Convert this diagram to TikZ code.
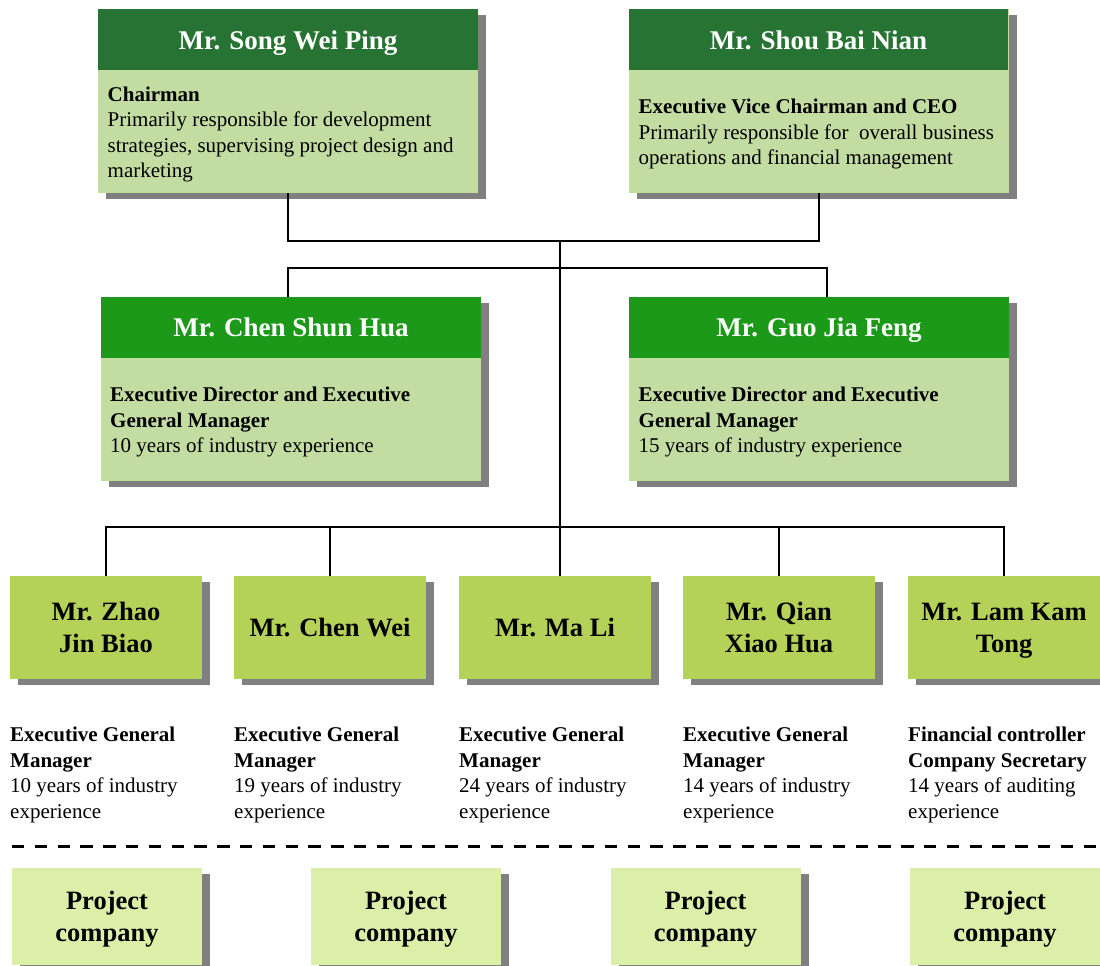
\documentclass[tikz,border=0pt]{standalone}
\usepackage{fontspec}
\setmainfont{Liberation Serif}
\usetikzlibrary{shadows,calc}
\definecolor{headdark}{HTML}{267334}
\definecolor{headmid}{HTML}{1D991A}
\definecolor{bodylight}{HTML}{C3DCA2}
\definecolor{namegreen}{HTML}{B5D258}
\definecolor{projgreen}{HTML}{DCEFA8}
\definecolor{shadowgray}{HTML}{808080}
\begin{document}
\begin{tikzpicture}[x=1pt,y=-1pt,
  box/.style={draw=none, inner sep=0pt, outer sep=0pt, anchor=north west,
    drop shadow={shadow xshift=8pt,shadow yshift=-6pt,fill=shadowgray,opacity=1}},
  hdr/.style={draw=none, inner sep=0pt, outer sep=0pt, anchor=north west,
    minimum width=380pt, minimum height=61pt},
  bigbox/.style={box, fill=bodylight, minimum width=380pt, minimum height=184pt},
  namebox/.style={box, fill=namegreen, minimum width=192pt, minimum height=103pt},
  projbox/.style={box, fill=projgreen, minimum width=190pt, minimum height=97pt},
  htext/.style={anchor=base, inner sep=0pt, text=white, font=\fontsize{27}{32}\selectfont\bfseries},
  btext/.style={anchor=base west, inner sep=0pt, font=\fontsize{21}{25.6}\selectfont},
  ntext/.style={anchor=base, inner sep=0pt, font=\fontsize{26.5}{31.6}\selectfont\bfseries},
  conn/.style={draw=black, line width=1.6pt},
]
\useasboundingbox (0,0) rectangle (1100,966);

% top boxes
\node[bigbox] (song) at (98,9) {};
\node[hdr, fill=headdark] (songHead) at (98,9) {};
\node[htext] (songName) at (288,50) {Mr. Song Wei Ping};
\node[btext] (songText) at (107.5,101) {\parbox[t]{370pt}{\textbf{Chairman}\\Primarily responsible for development\\strategies, supervising project design and\\marketing}};

\node[bigbox] (shou) at (629,9) {};
\node[hdr, fill=headdark, minimum width=379pt] (shouHead) at (629,9) {};
\node[htext] (shouName) at (818.5,50) {Mr. Shou Bai Nian};
\node[btext] (shouText) at (638.5,113.5) {\parbox[t]{370pt}{\textbf{Executive Vice Chairman and CEO}\\Primarily responsible for\ \ overall business\\operations and financial management}};

% middle boxes
\node[bigbox] (chen) at (101,297) {};
\node[hdr, fill=headmid] (chenHead) at (101,297) {};
\node[htext] (chenName) at (291,336.7) {Mr. Chen Shun Hua};
\node[btext] (chenText) at (110,401.5) {\parbox[t]{370pt}{\textbf{Executive Director and Executive}\\\textbf{General Manager}\\10 years of industry experience}};

\node[bigbox] (guo) at (629,297) {};
\node[hdr, fill=headmid] (guoHead) at (629,297) {};
\node[htext] (guoName) at (819,336.7) {Mr. Guo Jia Feng};
\node[btext] (guoText) at (638.5,401.5) {\parbox[t]{370pt}{\textbf{Executive Director and Executive}\\\textbf{General Manager}\\15 years of industry experience}};

% bottom name boxes
\node[namebox] (zhao) at (10,576) {};
\node[ntext] (zhaoName) at (106,620.7) {\parbox[t]{190pt}{\centering Mr. Zhao\\Jin Biao}};
\node[namebox] (chenwei) at (234,576) {};
\node[ntext] (chenweiName) at (330,636.7) {Mr. Chen Wei};
\node[namebox] (mali) at (459,576) {};
\node[ntext] (maliName) at (555,636.7) {Mr. Ma Li};
\node[namebox] (qian) at (683,576) {};
\node[ntext] (qianName) at (779,620.7) {\parbox[t]{190pt}{\centering Mr. Qian\\Xiao Hua}};
\node[namebox] (lam) at (908,576) {};
\node[ntext] (lamName) at (1004,620.7) {\parbox[t]{190pt}{\centering Mr. Lam Kam\\Tong}};

% descriptions
\node[btext] (zhaoText) at (10,741.7) {\parbox[t]{210pt}{\textbf{Executive General}\\\textbf{Manager}\\10 years of industry\\experience}};
\node[btext] (chenweiText) at (234,741.7) {\parbox[t]{210pt}{\textbf{Executive General}\\\textbf{Manager}\\19 years of industry\\experience}};
\node[btext] (maliText) at (459,741.7) {\parbox[t]{210pt}{\textbf{Executive General}\\\textbf{Manager}\\24 years of industry\\experience}};
\node[btext] (qianText) at (683,741.7) {\parbox[t]{210pt}{\textbf{Executive General}\\\textbf{Manager}\\14 years of industry\\experience}};
\node[btext] (lamText) at (908,741.7) {\parbox[t]{200pt}{\textbf{Financial controller}\\\textbf{Company Secretary}\\14 years of auditing\\experience}};

% dashed separator
\coordinate (dashL) at (12,846);
\coordinate (dashR) at (1100,846);
\draw[line width=3pt, dash pattern=on 12.3pt off 10.5pt] (dashL) -- (dashR);

% project companies
\node[projbox] (p1) at (12,868) {};
\node[ntext] (p1t) at (107,909.6) {\parbox[t]{190pt}{\centering Project\\company}};
\node[projbox] (p2) at (311,868) {};
\node[ntext] (p2t) at (406,909.6) {\parbox[t]{190pt}{\centering Project\\company}};
\node[projbox] (p3) at (611,868) {};
\node[ntext] (p3t) at (705.5,909.6) {\parbox[t]{190pt}{\centering Project\\company}};
\node[projbox] (p4) at (910,868) {};
\node[ntext] (p4t) at (1005,909.6) {\parbox[t]{190pt}{\centering Project\\company}};

% connectors
\coordinate (topjoin) at (560,241);
\coordinate (midjoin) at (560,268);
\coordinate (botjoin) at (560,527);
\draw[conn] (song.south) -- (song.south |- topjoin) -- (shou.south |- topjoin) -- (shou.south);
\draw[conn] (topjoin) -- (botjoin);
\draw[conn] ([xshift=-3pt]chen.north) -- ([xshift=-3pt]chen.north |- midjoin) -- ([xshift=8pt]guo.north |- midjoin) -- ([xshift=8pt]guo.north);
\draw[conn] (zhao.north) -- (zhao.north |- botjoin) -- (lam.north |- botjoin) -- (lam.north);
\draw[conn] (chenwei.north) -- (chenwei.north |- botjoin);
\draw[conn] (botjoin) -- (botjoin |- mali.north);
\draw[conn] (qian.north) -- (qian.north |- botjoin);
\end{tikzpicture}
\end{document}
